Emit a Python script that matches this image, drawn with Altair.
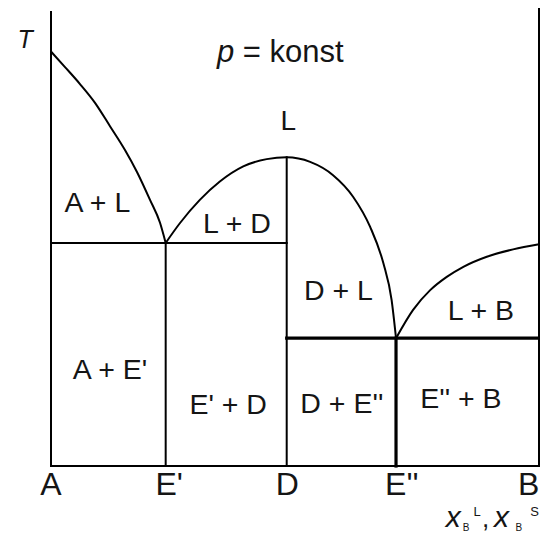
import altair as alt
import pandas as pd

FONT = "Liberation Sans"
INK = "#151515"

# ---- characteristic compositions (% B) and temperatures (arbitrary units) ----
comp_A, comp_E1, comp_D, comp_E2, comp_B = 0.0, 23.5, 48.3, 70.7, 100.0
T_eut1, T_eut2, T_Dmax = 48.7, 27.9, 67.4
T_axis_top, T_frame_top = 99.1, 100.0

# ---- liquidus curves ----
liqA_c = [0.0, 2.87, 5.94, 9.02, 12.09, 15.16, 17.62, 20.29, 22.34, 23.5]
liqA_T = [90.5, 87.1, 83.4, 79.3, 74.2, 69.0, 64.2, 58.1, 53.1, 48.7]
liqD_c = [23.5, 26.4, 30.5, 34.6, 39.4, 44.2, 48.3, 53.1, 57.8, 61.9, 65.4, 68.1, 69.8, 70.7]
liqD_T = [48.7, 53.0, 58.1, 62.1, 65.4, 67.0, 67.4, 66.4, 63.5, 58.8, 52.2, 44.3, 36.2, 27.9]
liqB_c = [70.7, 74.2, 77.7, 81.1, 84.5, 89.3, 94.7, 100.0]
liqB_T = [27.9, 34.1, 38.4, 41.3, 43.5, 45.7, 47.3, 48.4]

# ---- straight lines: (c1, T1, c2, T2) ----
thin_lines = [
    (comp_A, 0, comp_A, T_axis_top),
    (comp_A, 0, comp_B, 0),
    (comp_B, 0, comp_B, T_frame_top),
    (comp_A, T_eut1, comp_D, T_eut1),
    (comp_E1, 0, comp_E1, T_eut1),
    (comp_D, 0, comp_D, T_Dmax),
]
thick_lines = [
    (comp_D, T_eut2, comp_B, T_eut2),
    (comp_E2, 0, comp_E2, T_eut2),
]

# ---- labels ----
region_text = ["A + L", "L + D", "D + L", "L + B", "A + E'", "E' + D", "D + E''", "E'' + B"]
region_c = [9.5, 38.1, 58.9, 88.1, 12.1, 36.3, 59.6, 84.0]
region_T = [55.5, 50.9, 36.2, 31.9, 18.9, 11.4, 11.5, 12.6]

bottom_text = ["A", "E'", "D", "E''", "B"]
bottom_c = [0.0, 24.2, 48.4, 71.9, 97.9]
bottom_T = [-6.3] * 5

xs = alt.Scale(domain=[0, 100], range=[43, 531], nice=False, zero=False)
ys = alt.Scale(domain=[0, 100], range=[458, 0], nice=False, zero=False)
X = lambda f: alt.X(f, type="quantitative", scale=xs, axis=None)
Y = lambda f: alt.Y(f, type="quantitative", scale=ys, axis=None)


def seg_df(lines):
    return pd.DataFrame(lines, columns=["c", "T", "c2", "T2"])


curves = pd.concat([
    pd.DataFrame({"curve": "A", "i": range(len(liqA_c)), "c": liqA_c, "T": liqA_T}),
    pd.DataFrame({"curve": "D", "i": range(len(liqD_c)), "c": liqD_c, "T": liqD_T}),
    pd.DataFrame({"curve": "B", "i": range(len(liqB_c)), "c": liqB_c, "T": liqB_T}),
])

thin = alt.Chart(seg_df(thin_lines)).mark_rule(color="black", strokeWidth=2, strokeCap="square").encode(
    x=X("c"), y=Y("T"), x2="c2:Q", y2="T2:Q")
thick = alt.Chart(seg_df(thick_lines)).mark_rule(color="black", strokeWidth=3.2, strokeCap="square").encode(
    x=X("c"), y=Y("T"), x2="c2:Q", y2="T2:Q")
liq = alt.Chart(curves).mark_line(color="black", strokeWidth=2, interpolate="monotone").encode(
    x=X("c"), y=Y("T"), detail="curve:N", order="i:Q")


def txt(labels, cs, Ts, size, align="center", style="normal"):
    df = pd.DataFrame({"label": labels, "c": cs, "T": Ts})
    return alt.Chart(df).mark_text(font=FONT, fontSize=size, fontStyle=style, align=align,
                                   baseline="alphabetic", color=INK).encode(
        x=X("c"), y=Y("T"), text="label:N")


layers = [
    thin, thick, liq,
    txt(region_text, region_c, region_T, 28.5),
    txt(bottom_text, bottom_c, bottom_T, 32),
    txt(["T"], [-5.3], [91.2], 25, style="italic"),
    txt(["p"], [34.0], [88.2], 31, align="left", style="italic"),
    txt(["= konst"], [39.3], [88.2], 31, align="left"),
    txt(["L"], [48.6], [73.4], 28),
    # axis label  x_B^L, x_B^S
    txt(["x", "x"], [80.9, 90.8], [-13.3, -13.3], 30, align="left", style="italic"),
    txt([","], [88.3], [-13.3], 26, align="left"),
    txt(["B", "B"], [84.4, 95.2], [-14.2, -14.2], 10, align="left"),
    txt(["L", "S"], [86.6, 98.2], [-10.9, -10.9], 13, align="left"),
]

chart = alt.layer(*layers).properties(
    width=532, height=526, padding=0,
    autosize=alt.AutoSizeParams(type="none"),
).configure_view(stroke=None)

chart.save("out.html", embed_options={"renderer": "svg", "actions": False})
